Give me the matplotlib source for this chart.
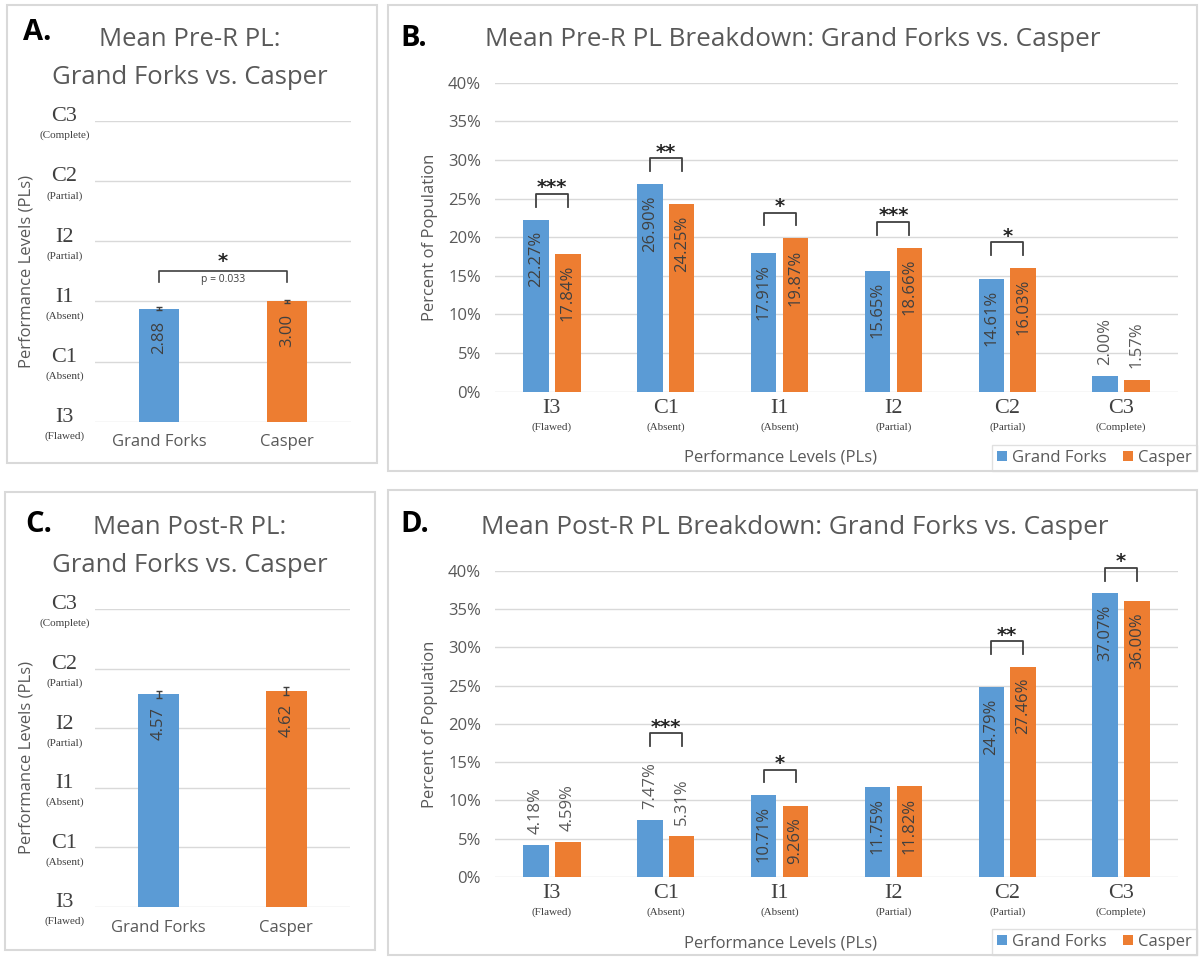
import numpy as np
import matplotlib
matplotlib.use("Agg")
import matplotlib.pyplot as plt
from matplotlib.patches import Rectangle

plt.rcParams['font.family'] = ['Open Sans', 'DejaVu Sans']

# performance levels, lowest to highest
levels = ['I3', 'C1', 'I1', 'I2', 'C2', 'C3']
level_notes = ['(Flawed)', '(Absent)', '(Absent)', '(Partial)', '(Partial)', '(Complete)']
sites = ['Grand Forks', 'Casper']

# mean performance level (I3 = 1 ... C3 = 6)
pre_mean = [2.88, 3.00]
pre_err = [0.03, 0.03]
post_mean = [4.57, 4.62]
post_err = [0.06, 0.07]
pre_sig = '*'
pre_p = 'p = 0.033'

# share of population at each level (%)
pre_gf = [22.27, 26.90, 17.91, 15.65, 14.61, 2.00]
pre_cs = [17.84, 24.25, 19.87, 18.66, 16.03, 1.57]
pre_stars = ['***', '**', '*', '***', '*', '']
post_gf = [4.18, 7.47, 10.71, 11.75, 24.79, 37.07]
post_cs = [4.59, 5.31, 9.26, 11.82, 27.46, 36.00]
post_stars = ['', '***', '*', '', '**', '*']

BLUE = '#5B9BD5'
ORANGE = '#ED7D31'
GRID = '#D9D9D9'
GRAY = '#595959'
DARK = '#404040'
SERIF = 'Liberation Serif'

W, H = 1201, 957
fig = plt.figure(figsize=(W / 100, H / 100), dpi=100)


def rect(x0, y0, x1, y1):
    return [x0 / W, 1 - y1 / H, (x1 - x0) / W, (y1 - y0) / H]


def ftext(x, y, s, **kw):
    fig.text(x / W, 1 - y / H, s, **kw)


def frame(x0, y0, x1, y1):
    fig.patches.append(Rectangle((x0 / W, 1 - y1 / H), (x1 - x0) / W, (y1 - y0) / H,
                                 transform=fig.transFigure, fill=False,
                                 edgecolor=GRID, lw=1.5))


def clean(ax):
    for s in ax.spines.values():
        s.set_visible(False)
    ax.tick_params(length=0)
    ax.yaxis.grid(True, color=GRID, lw=1)
    ax.set_axisbelow(True)


def mean_panel(box, means, errs, sig=None, ptext=None):
    ax = fig.add_axes(rect(*box))
    x = np.arange(len(sites))
    ax.bar(x, means, width=0.32, color=[BLUE, ORANGE])
    ax.errorbar(x, means, yerr=errs, fmt='none', ecolor=DARK, elinewidth=1, capsize=2.5)
    for xi, m in zip(x, means):
        ax.annotate(f'{m:.2f}', (xi, m), xytext=(0, -9), textcoords='offset points',
                    rotation=90, ha='center', va='top', fontsize=12, color=DARK)
    ax.set_xlim(-0.5, 1.5)
    ax.set_ylim(1, 6)
    ax.set_yticks(range(1, 7))
    ax.set_yticklabels([])
    ax.set_xticks(x)
    ax.set_xticklabels(sites, fontsize=12, color=GRAY)
    ax.tick_params(axis='x', pad=9)
    clean(ax)
    for i, (n, note) in enumerate(zip(levels, level_notes)):
        ax.annotate(n, (0, i + 1), xycoords=('axes fraction', 'data'), xytext=(-22, 3),
                    textcoords='offset points', ha='center', va='center',
                    family=SERIF, fontsize=16, color=DARK, annotation_clip=False)
        ax.annotate(note, (0, i + 1), xycoords=('axes fraction', 'data'), xytext=(-22, -10.5),
                    textcoords='offset points', ha='center', va='center',
                    family=SERIF, fontsize=8, color=DARK, annotation_clip=False)
    if sig:
        legs = max(m + e for m, e in zip(means, errs)) + 0.29
        top = legs + 0.19
        ax.plot([0, 0, 1, 1], [legs, top, top, legs], color=DARK, lw=1.2)
        ax.text(0.5, top + 0.06, sig, ha='center', va='baseline', family='DejaVu Sans',
                fontsize=14, fontweight='bold', color='#262626')
        ax.text(0.5, top - 0.05, ptext, ha='center', va='top', fontsize=7.5, color=DARK)
    return ax


def breakdown_panel(box, gf, cs, stars, legend_anchor):
    ax = fig.add_axes(rect(*box))
    x = np.arange(len(levels))
    off, w = 0.14, 0.224
    ax.bar(x - off, gf, w, color=BLUE, label=sites[0])
    ax.bar(x + off, cs, w, color=ORANGE, label=sites[1])
    for xs, vals in ((x - off, gf), (x + off, cs)):
        for xi, v in zip(xs, vals):
            if v < 8:
                ax.annotate(f'{v:.2f}%', (xi, v), xytext=(0, 8), textcoords='offset points',
                            rotation=90, ha='center', va='bottom', fontsize=12, color=GRAY)
            else:
                ax.annotate(f'{v:.2f}%', (xi, v), xytext=(0, -8), textcoords='offset points',
                            rotation=90, ha='center', va='top', fontsize=12, color=DARK)
    for i, s in enumerate(stars):
        if not s:
            continue
        reach = max(v + 8 if v < 8 else v for v in (gf[i], cs[i]))
        legs = reach + 1.65
        top = legs + 1.65
        ax.plot([i - off, i - off, i + off, i + off], [legs, top, top, legs],
                color=DARK, lw=1.3, clip_on=False)
        ax.text(i, top + 0.1, s, ha='center', va='baseline', family='DejaVu Sans',
                fontsize=14, fontweight='bold', color='#262626', clip_on=False)
    ax.set_xlim(-0.5, 5.5)
    ax.set_ylim(0, 40)
    ax.set_yticks(range(0, 41, 5))
    ax.set_yticklabels([f'{t}%' for t in range(0, 41, 5)], fontsize=12, color=GRAY)
    ax.tick_params(axis='y', pad=10)
    ax.set_xticks(x)
    ax.set_xticklabels([])
    clean(ax)
    for i, (n, note) in enumerate(zip(levels, level_notes)):
        ax.annotate(n, (i, 0), xycoords=('data', 'axes fraction'), xytext=(0, -12),
                    textcoords='offset points', ha='center', va='center',
                    family=SERIF, fontsize=16, color=DARK, annotation_clip=False)
        ax.annotate(note, (i, 0), xycoords=('data', 'axes fraction'), xytext=(0, -25.5),
                    textcoords='offset points', ha='center', va='center',
                    family=SERIF, fontsize=8, color=DARK, annotation_clip=False)
    leg = ax.legend(loc='lower right', bbox_to_anchor=(legend_anchor[0] / W, 1 - legend_anchor[1] / H),
                    bbox_transform=fig.transFigure, ncol=2, fontsize=12, labelcolor=GRAY,
                    frameon=True, fancybox=False, edgecolor=GRID, borderaxespad=0,
                    handlelength=0.6, handleheight=0.6, handletextpad=0.3,
                    columnspacing=1.0, borderpad=0.3)
    leg.get_frame().set_linewidth(1)
    return ax


# panel frames
frame(7, 5, 377, 463)
frame(388, 5, 1197, 471)
frame(5, 492, 375, 950)
frame(388, 490, 1197, 955)

# A: mean pre-R level
mean_panel((95, 121, 351, 421.7), pre_mean, pre_err, pre_sig, pre_p)
ftext(23, 33, 'A.', ha='left', va='center', fontsize=21, fontweight='bold', color='black')
ftext(190, 40, 'Mean Pre-R PL:', ha='center', va='center', fontsize=18.5, color=GRAY)
ftext(190, 77, 'Grand Forks vs. Casper', ha='center', va='center', fontsize=18.5, color=GRAY)
ftext(27, 271, 'Performance Levels (PLs)', rotation=90, ha='center', va='center',
      fontsize=12, color=GRAY)

# C: mean post-R level
mean_panel((95, 609, 350, 907), post_mean, post_err)
ftext(25, 525, 'C.', ha='left', va='center', fontsize=21, fontweight='bold', color='black')
ftext(190, 528, 'Mean Post-R PL:', ha='center', va='center', fontsize=18.5, color=GRAY)
ftext(190, 565, 'Grand Forks vs. Casper', ha='center', va='center', fontsize=18.5, color=GRAY)
ftext(27, 758, 'Performance Levels (PLs)', rotation=90, ha='center', va='center',
      fontsize=12, color=GRAY)

# B: pre-R breakdown
breakdown_panel((495, 82.7, 1178, 391.7), pre_gf, pre_cs, pre_stars, (1197, 471))
ftext(400, 38, 'B.', ha='left', va='center', fontsize=21, fontweight='bold', color='black')
ftext(485, 40, 'Mean Pre-R PL Breakdown: Grand Forks vs. Casper', ha='left', va='center',
      fontsize=18.8, color=GRAY)
ftext(430, 237, 'Percent of Population', rotation=90, ha='center', va='center',
      fontsize=12, color=GRAY)
ftext(780, 458, 'Performance Levels (PLs)', ha='center', va='center', fontsize=12, color=GRAY)

# D: post-R breakdown
breakdown_panel((495, 570.7, 1178, 877), post_gf, post_cs, post_stars, (1197, 955))
ftext(400, 525, 'D.', ha='left', va='center', fontsize=21, fontweight='bold', color='black')
ftext(481, 527, 'Mean Post-R PL Breakdown: Grand Forks vs. Casper', ha='left', va='center',
      fontsize=18.8, color=GRAY)
ftext(430, 724, 'Percent of Population', rotation=90, ha='center', va='center',
      fontsize=12, color=GRAY)
ftext(780, 943, 'Performance Levels (PLs)', ha='center', va='center', fontsize=12, color=GRAY)

fig.savefig('out.png', dpi=100)
